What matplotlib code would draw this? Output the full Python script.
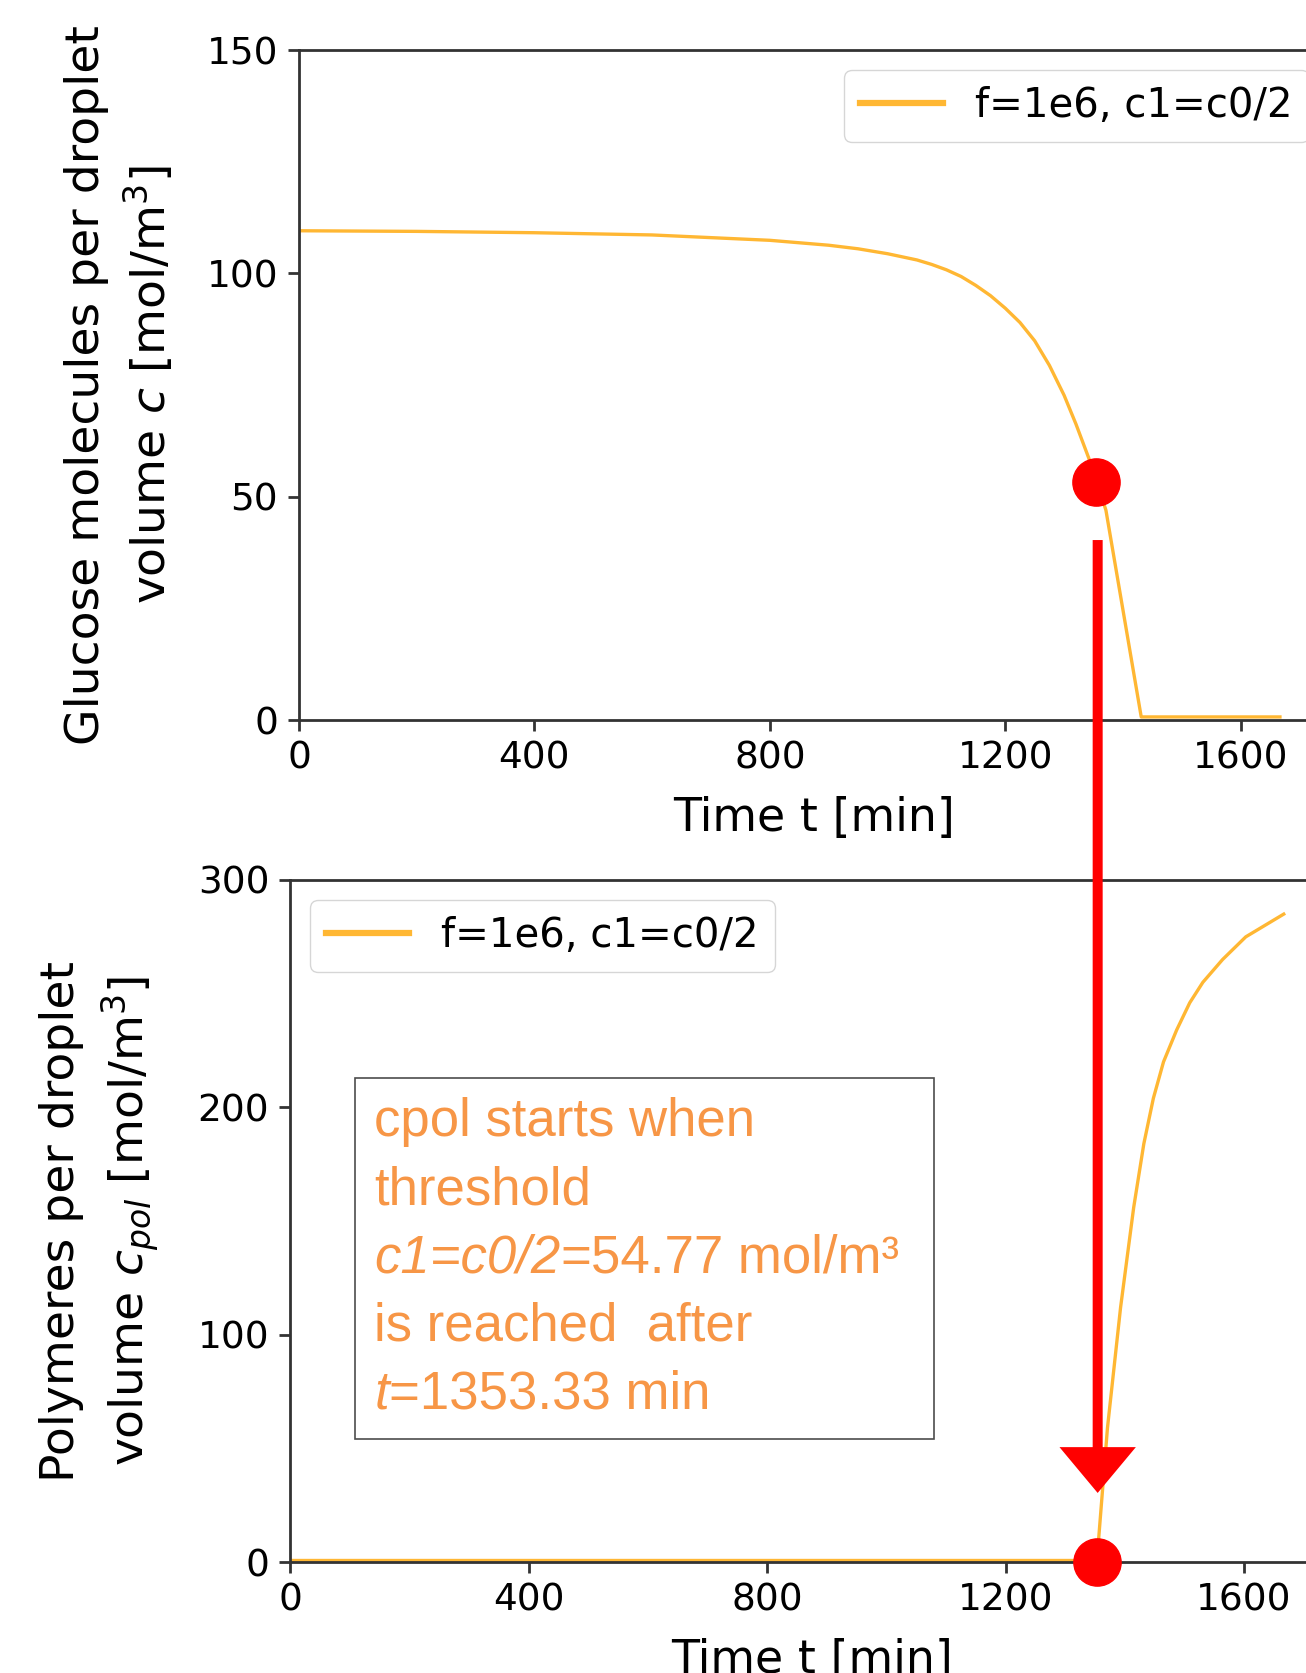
import matplotlib
matplotlib.use("Agg")
import matplotlib.pyplot as plt
from matplotlib.patches import ConnectionPatch
from matplotlib.transforms import blended_transform_factory
from matplotlib.offsetbox import TextArea, HPacker, VPacker, AnchoredOffsetbox

plt.rcParams['font.family'] = ['DejaVu Sans']
plt.rcParams['mathtext.fontset'] = 'dejavusans'

# glucose per droplet volume (top panel)
t_glucose = [0, 200, 400, 600, 800, 900, 950, 1000, 1050, 1075, 1100, 1125,
             1150, 1175, 1200, 1225, 1250, 1275, 1300, 1320, 1342, 1371,
             1431, 1666.67]
c_glucose = [109.54, 109.4, 109.1, 108.6, 107.4, 106.3, 105.5, 104.4, 103.0,
             102.0, 100.8, 99.3, 97.3, 95.0, 92.2, 89.0, 84.9, 79.4, 72.7,
             66.3, 58.6, 47.0, 0.7, 0.7]

# polymers per droplet volume (bottom panel)
t_pol = [0, 1353.33, 1371, 1393, 1415, 1432, 1448, 1465, 1487, 1509, 1531,
         1564, 1603, 1666.67]
c_pol = [0.7, 0.7, 59, 112, 156, 184, 204, 220, 234, 246, 255, 265, 275, 285]

t_threshold = 1353.33
c_threshold = 54.77
dot_c = 53.2        # where the red dot sits on the glucose curve
arrow_t = 1357
arrow_from = 40.3   # in glucose units
arrow_to = 30.4     # in cpol units

legend_label = "f=1e6, c1=c0/2"
x_ticks = [0, 400, 800, 1200, 1600]
glucose_ticks = [0, 50, 100, 150]
pol_ticks = [0, 100, 200, 300]

note_rows = [
    [("cpol starts when", False)],
    [("threshold", False)],
    [("c1=c0/2=", True), ("%.2f mol/m³" % c_threshold, False)],
    [("is reached  after", False)],
    [("t", True), ("=%.2f min" % t_threshold, False)],
]

line_color = 'orange'
note_color = '#F79646'
spine_color = '0.2'


def style_axes(ax, yticks, ymax):
    ax.set_xlim(0, 1750)
    ax.set_ylim(0, ymax)
    ax.set_xticks(x_ticks)
    ax.set_yticks(yticks)
    ax.tick_params(labelsize=27, length=8, width=2, color=spine_color, pad=7)
    for s in ax.spines.values():
        s.set_linewidth(2)
        s.set_color(spine_color)


fig = plt.figure(figsize=(13.06, 16.73), dpi=100)
ax1 = fig.add_axes([0.2289, 0.5696, 0.7887, 0.4005])
ax2 = fig.add_axes([0.2221, 0.0663, 0.7989, 0.4077])

# top panel
ax1.plot(t_glucose, c_glucose, color=line_color, alpha=0.8, lw=2.4, label=legend_label)
ax1.plot([t_threshold], [dot_c], 'o', color='red', ms=34, clip_on=False, zorder=5)
style_axes(ax1, glucose_ticks, 150)
ax1.set_xlabel("Time t [min]", fontsize=33, labelpad=14)
ax1.set_ylabel("Glucose molecules per droplet\nvolume $c$ [mol/m$^3$]", fontsize=34,
               labelpad=22, linespacing=1.3)
leg1 = ax1.legend(loc='upper right', fontsize=29, handlelength=2.05)
leg1.get_lines()[0].set_linewidth(4.5)

# bottom panel
ax2.plot(t_pol, c_pol, color=line_color, alpha=0.8, lw=2.4, label=legend_label)
ax2.plot([t_threshold], [0], 'o', color='red', ms=34, clip_on=False, zorder=5)
style_axes(ax2, pol_ticks, 300)
ax2.set_xlabel("Time t [min]", fontsize=33, labelpad=14)
ax2.set_ylabel("Polymeres per droplet\nvolume $c_{pol}$ [mol/m$^3$]", fontsize=34,
               labelpad=26, linespacing=1.35)
leg2 = ax2.legend(loc='upper left', fontsize=29, handlelength=2.05)
leg2.get_lines()[0].set_linewidth(4.5)

# annotation box
reg = dict(color=note_color, fontsize=38, family='Liberation Sans')
ita = dict(reg, style='italic')
rows = []
for row in note_rows:
    parts = [TextArea(s, textprops=ita if it else reg) for s, it in row]
    rows.append(HPacker(children=parts, sep=0, pad=0, align='baseline'))
note = VPacker(children=rows, sep=13, pad=0, width=540, align='left')
box = AnchoredOffsetbox(loc='upper left', child=note, pad=1.4, borderpad=0,
                        frameon=True, prop=dict(size=10),
                        bbox_to_anchor=(109, 213), bbox_transform=ax2.transData)
box.patch.set_boxstyle('square', pad=0)
box.patch.set_edgecolor('0.3')
box.patch.set_linewidth(1.2)
ax2.add_artist(box)

# red arrow from top panel down to bottom panel
con = ConnectionPatch(xyA=(arrow_t, arrow_from), coordsA=ax1.transData,
                      xyB=(arrow_t, arrow_to),
                      coordsB=blended_transform_factory(ax1.transData, ax2.transData),
                      arrowstyle='simple,head_length=3.3,head_width=5.5,tail_width=0.72',
                      mutation_scale=10, facecolor='red', edgecolor='none', lw=0,
                      shrinkA=0, shrinkB=0, zorder=6)
fig.add_artist(con)

fig.savefig("out.png", dpi=100)
